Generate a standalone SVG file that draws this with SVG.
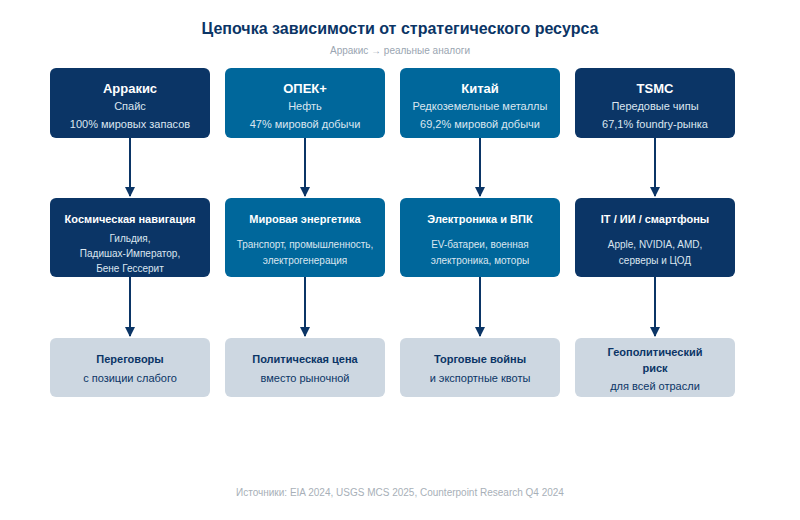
<svg xmlns="http://www.w3.org/2000/svg" width="800" height="520" viewBox="0 0 800 520">
<style>
text{font-family:"Liberation Sans",Arial,sans-serif;text-anchor:middle}
.d{fill:#0b3566}.m{fill:#00679b}.l{fill:#cdd7e1}
.t{fill:#fff;font-weight:bold;font-size:13px}
.s{fill:#dbe6f0;font-size:11px}
.t2{fill:#fff;font-weight:bold;font-size:11px}
.s2{fill:#dbe6f0;font-size:10px}
.t3{fill:#0b3566;font-weight:bold;font-size:11px}
.s3{fill:#0b3566;font-size:11px}
.c{stroke:#0b3566;stroke-width:2;fill:none;marker-end:url(#a)}
</style>
<defs><marker id="a" viewBox="0 0 10 10" refX="9" refY="5" markerWidth="5" markerHeight="5" orient="auto"><path d="M0,0L10,5L0,10z" fill="#0b3566"/></marker></defs>
<rect width="800" height="520" fill="#fff"/>
<text x="400" y="34" font-size="16" font-weight="bold" fill="#0b3566">Цепочка зависимости от стратегического ресурса</text>
<text x="400" y="54" font-size="10" fill="#9aa5b1">Арракис → реальные аналоги</text>
<g id="connectors">
<path class="c" d="M130 138V196"/><path class="c" d="M305 138V196"/><path class="c" d="M480 138V196"/><path class="c" d="M655 138V196"/>
<path class="c" d="M130 277V336"/><path class="c" d="M305 277V336"/><path class="c" d="M480 277V336"/><path class="c" d="M655 277V336"/>
</g>
<g id="n1"><rect class="d" x="50" y="68" width="160" height="70" rx="6"/><text class="t" x="130" y="93">Арракис</text><text class="s" x="130" y="110">Спайс</text><text class="s" x="130" y="128">100% мировых запасов</text></g>
<g id="n2"><rect class="m" x="225" y="68" width="160" height="70" rx="6"/><text class="t" x="305" y="93">ОПЕК+</text><text class="s" x="305" y="110">Нефть</text><text class="s" x="305" y="128">47% мировой добычи</text></g>
<g id="n3"><rect class="m" x="400" y="68" width="160" height="70" rx="6"/><text class="t" x="480" y="93">Китай</text><text class="s" x="480" y="110">Редкоземельные металлы</text><text class="s" x="480" y="128">69,2% мировой добычи</text></g>
<g id="n4"><rect class="d" x="575" y="68" width="160" height="70" rx="6"/><text class="t" x="655" y="93">TSMC</text><text class="s" x="655" y="110">Передовые чипы</text><text class="s" x="655" y="128">67,1% foundry-рынка</text></g>
<g id="n5"><rect class="d" x="50" y="198" width="160" height="79" rx="6"/><text class="t2" x="130" y="223">Космическая навигация</text><text class="s2" x="130" y="242">Гильдия,</text><text class="s2" x="130" y="257">Падишах-Император,</text><text class="s2" x="130" y="272">Бене Гессерит</text></g>
<g id="n6"><rect class="m" x="225" y="198" width="160" height="79" rx="6"/><text class="t2" x="305" y="223">Мировая энергетика</text><text class="s2" x="305" y="248">Транспорт, промышленность,</text><text class="s2" x="305" y="264">электрогенерация</text></g>
<g id="n7"><rect class="m" x="400" y="198" width="160" height="79" rx="6"/><text class="t2" x="480" y="223">Электроника и ВПК</text><text class="s2" x="480" y="248">EV-батареи, военная</text><text class="s2" x="480" y="264">электроника, моторы</text></g>
<g id="n8"><rect class="d" x="575" y="198" width="160" height="79" rx="6"/><text class="t2" x="655" y="223">IT / ИИ / смартфоны</text><text class="s2" x="655" y="248">Apple, NVIDIA, AMD,</text><text class="s2" x="655" y="264">серверы и ЦОД</text></g>
<g id="n9"><rect class="l" x="50" y="338" width="160" height="59" rx="6"/><text class="t3" x="130" y="363">Переговоры</text><text class="s3" x="130" y="382">с позиции слабого</text></g>
<g id="n10"><rect class="l" x="225" y="338" width="160" height="59" rx="6"/><text class="t3" x="305" y="363">Политическая цена</text><text class="s3" x="305" y="382">вместо рыночной</text></g>
<g id="n11"><rect class="l" x="400" y="338" width="160" height="59" rx="6"/><text class="t3" x="480" y="363">Торговые войны</text><text class="s3" x="480" y="382">и экспортные квоты</text></g>
<g id="n12"><rect class="l" x="575" y="338" width="160" height="59" rx="6"/><text class="t3" x="655" y="356">Геополитический</text><text class="t3" x="655" y="372">риск</text><text class="s3" x="655" y="390">для всей отрасли</text></g>
<text x="400" y="496" font-size="10" fill="#a8b0b8">Источники: EIA 2024, USGS MCS 2025, Counterpoint Research Q4 2024</text>
</svg>
